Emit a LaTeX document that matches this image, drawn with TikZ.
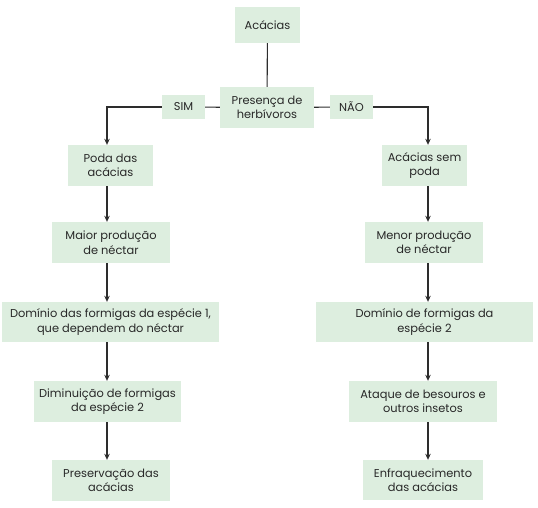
\documentclass[tikz,border=0pt]{standalone}
\usepackage{fontspec}
\setmainfont{Poppins}
\usetikzlibrary{arrows.meta}
\definecolor{boxfill}{RGB}{221,238,223}
\definecolor{txt}{RGB}{40,40,40}
\definecolor{ln}{RGB}{45,45,45}
\begin{document}
\begin{tikzpicture}[x=1pt,y=-1pt,
  box/.style={fill=boxfill,draw=none,inner sep=0pt,align=center,text=txt,
    font=\fontsize{11.4}{14.5}\selectfont},
  con/.style={draw=ln,line width=1.1pt},
  arr/.style={con,-{Stealth[length=6pt,width=5.5pt]}}]
\useasboundingbox (0,0) rectangle (538,507);
\newcommand{\bx}[6]{\node[box,minimum width=#4pt,minimum height=#5pt] (#1) at (#2,#3) {#6};}
\bx{acacias}{267.5}{25}{65}{36}{Acácias}
\bx{pres}{267}{107.5}{94}{41}{Presença de\\herbívoros}
\bx{sim}{183.5}{107}{43}{24}{SIM}
\bx{nao}{351.5}{107}{43}{24}{NÃO}
\bx{poda}{110.5}{165.5}{85}{41}{Poda das\\acácias}
\bx{maior}{111}{242.5}{118}{41}{Maior produção\\de néctar}
\bx{dom1}{110.5}{322}{217}{40}{Domínio das formigas da espécie 1,\\que dependem do néctar}
\bx{dimin}{107.5}{401.5}{147}{41}{Diminuição de formigas\\da espécie 2}
\bx{pres1}{111}{480.5}{118}{41}{Preservação das\\acácias}
\bx{sempoda}{424.5}{165.5}{85}{41}{Acácias sem\\poda}
\bx{menor}{424}{242.5}{118}{41}{Menor produção\\de néctar}
\bx{dom2}{424.5}{322}{217}{40}{Domínio de formigas da\\espécie 2}
\bx{ataque}{423}{401.5}{148}{41}{Ataque de besouros e\\outros insetos}
\bx{enfraq}{423}{480}{120}{40}{Enfraquecimento\\das acácias}
\coordinate (L) at (107,0);
\coordinate (R) at (428,0);
\draw[con] (acacias) -- (pres);
\draw[con] (pres) -- (sim);
\draw[con] (pres) -- (nao);
\draw[arr] (sim.west) -| (poda.north -| L);
\draw[arr] (nao.east) -| (sempoda.north -| R);
\draw[arr] (poda.south -| L) -- (maior.north -| L);
\draw[arr] (maior.south -| L) -- (dom1.north -| L);
\draw[arr] (dom1.south -| L) -- (dimin.north -| L);
\draw[arr] (dimin.south -| L) -- (pres1.north -| L);
\draw[arr] (sempoda.south -| R) -- (menor.north -| R);
\draw[arr] (menor.south -| R) -- (dom2.north -| R);
\draw[arr] (dom2.south -| R) -- (ataque.north -| R);
\draw[arr] (ataque.south -| R) -- (enfraq.north -| R);
\end{tikzpicture}
\end{document}
